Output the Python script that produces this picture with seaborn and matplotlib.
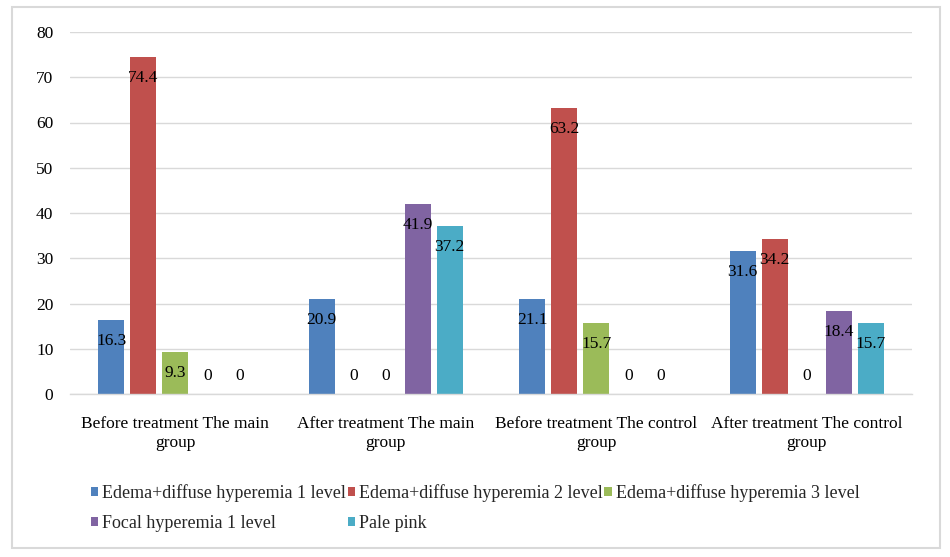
import matplotlib
matplotlib.use("Agg")
import matplotlib.pyplot as plt
import seaborn as sns
import pandas as pd
from matplotlib.patches import Patch, Rectangle

categories = ["Before treatment The main\ngroup", "After treatment The main\ngroup",
              "Before treatment The control\ngroup", "After treatment The control\ngroup"]
series = ["Edema+diffuse hyperemia 1 level", "Edema+diffuse hyperemia 2 level",
          "Edema+diffuse hyperemia 3 level", "Focal hyperemia 1 level", "Pale pink"]
edema1 = [16.3, 20.9, 21.1, 31.6]
edema2 = [74.4, 0, 63.2, 34.2]
edema3 = [9.3, 0, 15.7, 0]
focal1 = [0, 41.9, 0, 18.4]
pale_pink = [0, 37.2, 0, 15.7]
yticks = [0, 10, 20, 30, 40, 50, 60, 70, 80]
colors = ["#4F81BD", "#C0504D", "#9BBB59", "#8064A2", "#4BACC6"]

values = [edema1, edema2, edema3, focal1, pale_pink]
rows = []
for s, vals in zip(series, values):
    for c, v in zip(categories, vals):
        rows.append({"cat": c, "series": s, "value": v})
df = pd.DataFrame(rows)

sns.set_style("white")
plt.rcParams["font.family"] = ["Liberation Serif", "DejaVu Serif"]

W, H = 950, 557
fig = plt.figure(figsize=(W / 100, H / 100), dpi=100)
ax = fig.add_axes([70 / W, (H - 394) / H, 842 / W, 362 / H])

sns.barplot(data=df, x="cat", y="value", hue="series", order=categories,
            hue_order=series, palette=colors, width=0.76, gap=0.19,
            saturation=1, legend=False, ax=ax, edgecolor="none", linewidth=0)

ax.set_ylim(0, 80)
ax.set_xlim(-0.5, len(categories) - 0.5)
ax.set_yticks(yticks)
ax.set_yticklabels([str(t) for t in yticks])
ax.set_xlabel("")
ax.set_ylabel("")
ax.tick_params(axis="both", length=0, labelsize=12.5, colors="black")
ax.tick_params(axis="y", pad=12)
ax.tick_params(axis="x", pad=16)
for lbl in ax.get_xticklabels():
    lbl.set_linespacing(1.2)
ax.yaxis.grid(True, color="#D9D9D9", linewidth=1)
ax.set_axisbelow(True)
for sp in ["top", "right", "left"]:
    ax.spines[sp].set_visible(False)
ax.spines["bottom"].set_color("#D9D9D9")
ax.spines["bottom"].set_linewidth(1)

for container, vals in zip(ax.containers, values):
    for bar, v in zip(container, vals):
        cx = bar.get_x() + bar.get_width() / 2
        off = -21 if v > 0 else 18
        ax.annotate(f"{v:g}", xy=(cx, v), xytext=(0, off), textcoords="offset pixels",
                    ha="center", va="center", fontsize=12.5, color="black")

handles = [Patch(facecolor=c, edgecolor="none") for c in colors]
order = [0, 3, 1, 4, 2]
fig.legend([handles[i] for i in order], [series[i] for i in order],
           ncol=3, loc="center", bbox_to_anchor=(0.5, (H - 508) / H),
           frameon=False, fontsize=13, handlelength=0.42, handleheight=0.42,
           handletextpad=0.2, columnspacing=0.1, labelspacing=0.72)

fig.patches.append(Rectangle((12 / W, (H - 548) / H), (940 - 12) / W, (548 - 7) / H,
                             transform=fig.transFigure, fill=False,
                             edgecolor="#D9D9D9", linewidth=1.5))

fig.savefig("out.png", dpi=100)
